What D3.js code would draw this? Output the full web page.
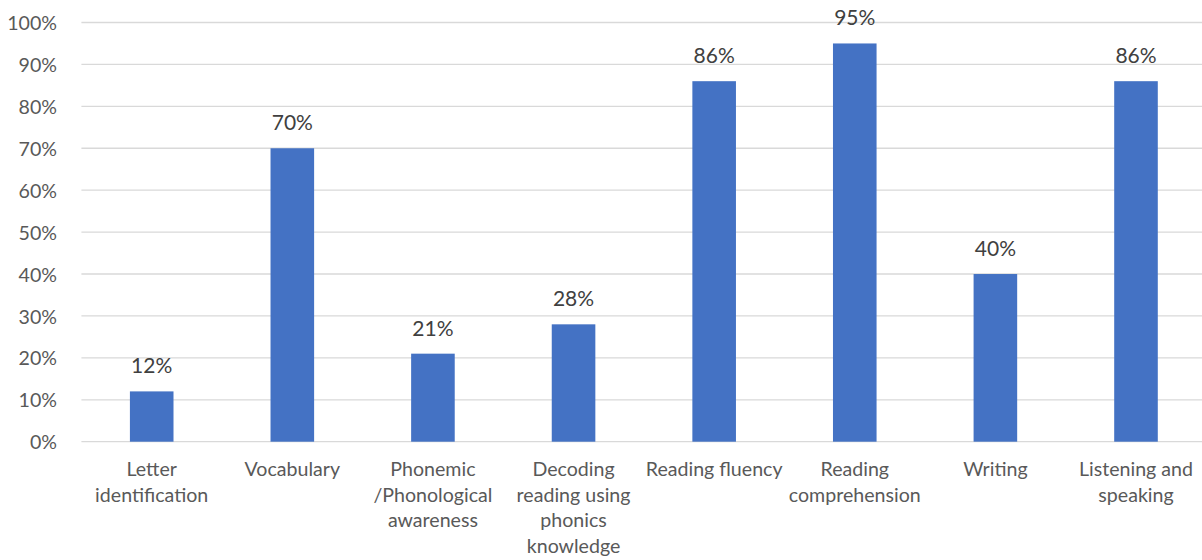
<!DOCTYPE html>
<html>
<head>
<meta charset="utf-8">
<script src="https://cdn.jsdelivr.net/npm/d3@7"></script>
<style>
  html, body { margin: 0; padding: 0; background: #ffffff; }
  svg { display: block; }
  text { font-family: Lato, "Open Sans", sans-serif; }
</style>
</head>
<body>
<svg id="chart" width="1202" height="560"></svg>
<script>
// Share of teachers addressing each literacy area
const categories = [
  "Letter identification",
  "Vocabulary",
  "Phonemic /Phonological awareness",
  "Decoding reading using phonics knowledge",
  "Reading fluency",
  "Reading comprehension",
  "Writing",
  "Listening and speaking"
];
// Axis label lines for each category
const categoryLines = [
  ["Letter", "identification"],
  ["Vocabulary"],
  ["Phonemic", "/Phonological", "awareness"],
  ["Decoding", "reading using", "phonics", "knowledge"],
  ["Reading fluency"],
  ["Reading", "comprehension"],
  ["Writing"],
  ["Listening and", "speaking"]
];
const values = [0.12, 0.70, 0.21, 0.28, 0.86, 0.95, 0.40, 0.86];
const yTicks = [0, 0.1, 0.2, 0.3, 0.4, 0.5, 0.6, 0.7, 0.8, 0.9, 1.0];

const svg = d3.select("#chart");
const plotLeft = 81.4, plotRight = 1206.3, plotTop = 22.5, plotBottom = 441.7;

const x = d3.scaleBand()
  .domain(categories)
  .range([plotLeft, plotRight])
  .paddingInner(0.69)
  .paddingOuter(0.345);

const y = d3.scaleLinear().domain([0, 1]).range([plotBottom, plotTop]);
const pct = d3.format(".0%");

// Horizontal gridlines
svg.append("g")
  .selectAll("line")
  .data(yTicks)
  .join("line")
  .attr("x1", plotLeft)
  .attr("x2", plotRight)
  .attr("y1", d => y(d))
  .attr("y2", d => y(d))
  .attr("stroke", "#d9d9d9")
  .attr("stroke-width", 1.3);

// Y axis labels
const yAxis = d3.axisLeft(y)
  .tickValues(yTicks)
  .tickFormat(pct)
  .tickSize(0)
  .tickPadding(0);

const gy = svg.append("g")
  .attr("transform", "translate(57,0)")
  .call(yAxis);
gy.select(".domain").remove();
gy.selectAll("text")
  .attr("fill", "#595959")
  .attr("font-size", 19.6)
  .attr("font-family", "Lato, sans-serif")
  .attr("dy", "0.36em");

// Bars
svg.append("g")
  .selectAll("rect")
  .data(values)
  .join("rect")
  .attr("x", (d, i) => x(categories[i]))
  .attr("y", d => y(d))
  .attr("width", x.bandwidth())
  .attr("height", d => y(0) - y(d))
  .attr("fill", "#4472c4");

// Value labels
svg.append("g")
  .selectAll("text")
  .data(values)
  .join("text")
  .attr("x", (d, i) => x(categories[i]) + x.bandwidth() / 2)
  .attr("y", d => y(d) - 18)
  .attr("text-anchor", "middle")
  .attr("fill", "#404040")
  .attr("font-size", 21)
  .text(d => pct(d));

// Category labels
const gx = svg.append("g");
categories.forEach((c, i) => {
  const cx = x(c) + x.bandwidth() / 2;
  const t = gx.append("text")
    .attr("x", cx)
    .attr("y", 476)
    .attr("text-anchor", "middle")
    .attr("fill", "#595959")
    .attr("font-size", 19.6);
  categoryLines[i].forEach((line, j) => {
    t.append("tspan")
      .attr("x", cx)
      .attr("dy", j === 0 ? 0 : 25.5)
      .text(line);
  });
});
</script>
</body>
</html>
